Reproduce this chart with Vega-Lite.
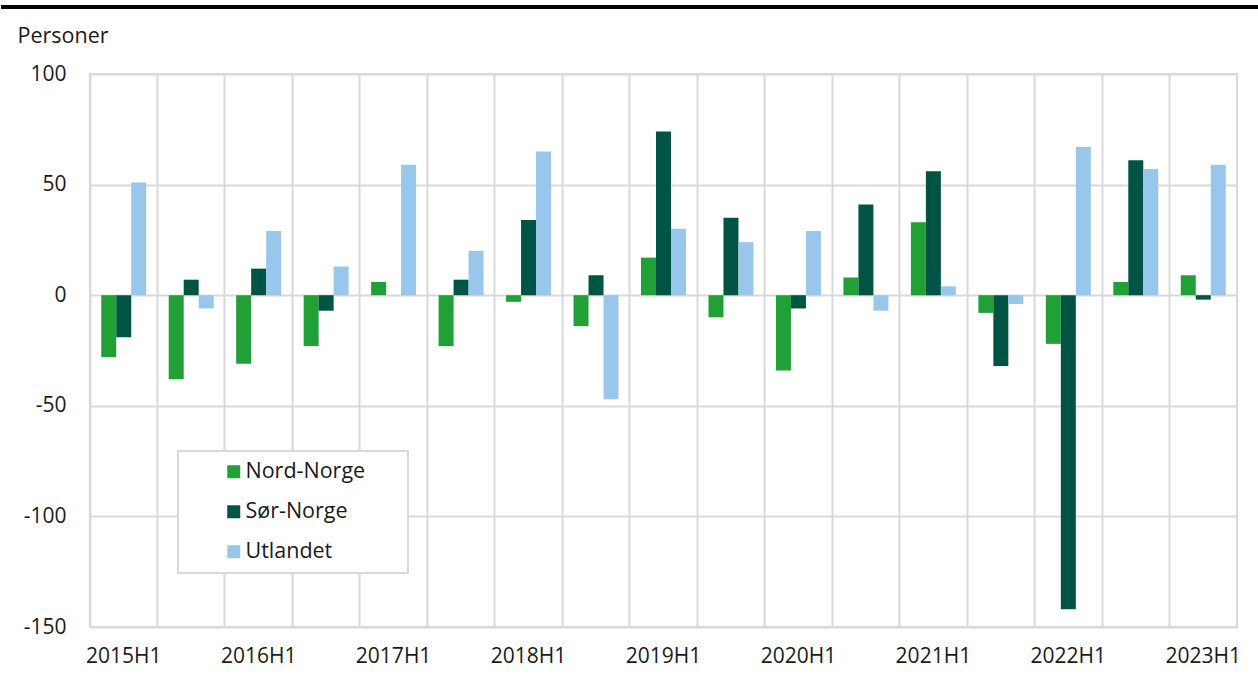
{
  "$schema": "https://vega.github.io/schema/vega-lite/v6.json",
  "padding": {"left": 0, "top": 5, "right": 0, "bottom": 0},
  "background": "white",
  "columns": 1,
  "align": "none",
  "bounds": "full",
  "spacing": 15,
  "config": {
    "font": "Open Sans",
    "view": {"stroke": "#d9d9d9", "strokeWidth": 2},
    "axis": {"labelFont": "Open Sans", "titleFont": "Open Sans", "labelColor": "#1a1a1a", "titleColor": "#1a1a1a"},
    "legend": {"labelFont": "Open Sans", "strokeWidth": 2}
  },
  "datasets": {
    "line": [{"lo": -0.0776, "hi": 1.0192, "b0": 0, "b1": 1}],
    "flows": [
      {"period": "2015H1", "region": "Nord-Norge", "value": -28},
      {"period": "2015H1", "region": "Sør-Norge", "value": -19},
      {"period": "2015H1", "region": "Utlandet", "value": 51},
      {"period": "2015H2", "region": "Nord-Norge", "value": -38},
      {"period": "2015H2", "region": "Sør-Norge", "value": 7},
      {"period": "2015H2", "region": "Utlandet", "value": -6},
      {"period": "2016H1", "region": "Nord-Norge", "value": -31},
      {"period": "2016H1", "region": "Sør-Norge", "value": 12},
      {"period": "2016H1", "region": "Utlandet", "value": 29},
      {"period": "2016H2", "region": "Nord-Norge", "value": -23},
      {"period": "2016H2", "region": "Sør-Norge", "value": -7},
      {"period": "2016H2", "region": "Utlandet", "value": 13},
      {"period": "2017H1", "region": "Nord-Norge", "value": 6},
      {"period": "2017H1", "region": "Sør-Norge", "value": 0},
      {"period": "2017H1", "region": "Utlandet", "value": 59},
      {"period": "2017H2", "region": "Nord-Norge", "value": -23},
      {"period": "2017H2", "region": "Sør-Norge", "value": 7},
      {"period": "2017H2", "region": "Utlandet", "value": 20},
      {"period": "2018H1", "region": "Nord-Norge", "value": -3},
      {"period": "2018H1", "region": "Sør-Norge", "value": 34},
      {"period": "2018H1", "region": "Utlandet", "value": 65},
      {"period": "2018H2", "region": "Nord-Norge", "value": -14},
      {"period": "2018H2", "region": "Sør-Norge", "value": 9},
      {"period": "2018H2", "region": "Utlandet", "value": -47},
      {"period": "2019H1", "region": "Nord-Norge", "value": 17},
      {"period": "2019H1", "region": "Sør-Norge", "value": 74},
      {"period": "2019H1", "region": "Utlandet", "value": 30},
      {"period": "2019H2", "region": "Nord-Norge", "value": -10},
      {"period": "2019H2", "region": "Sør-Norge", "value": 35},
      {"period": "2019H2", "region": "Utlandet", "value": 24},
      {"period": "2020H1", "region": "Nord-Norge", "value": -34},
      {"period": "2020H1", "region": "Sør-Norge", "value": -6},
      {"period": "2020H1", "region": "Utlandet", "value": 29},
      {"period": "2020H2", "region": "Nord-Norge", "value": 8},
      {"period": "2020H2", "region": "Sør-Norge", "value": 41},
      {"period": "2020H2", "region": "Utlandet", "value": -7},
      {"period": "2021H1", "region": "Nord-Norge", "value": 33},
      {"period": "2021H1", "region": "Sør-Norge", "value": 56},
      {"period": "2021H1", "region": "Utlandet", "value": 4},
      {"period": "2021H2", "region": "Nord-Norge", "value": -8},
      {"period": "2021H2", "region": "Sør-Norge", "value": -32},
      {"period": "2021H2", "region": "Utlandet", "value": -4},
      {"period": "2022H1", "region": "Nord-Norge", "value": -22},
      {"period": "2022H1", "region": "Sør-Norge", "value": -142},
      {"period": "2022H1", "region": "Utlandet", "value": 67},
      {"period": "2022H2", "region": "Nord-Norge", "value": 6},
      {"period": "2022H2", "region": "Sør-Norge", "value": 61},
      {"period": "2022H2", "region": "Utlandet", "value": 57},
      {"period": "2023H1", "region": "Nord-Norge", "value": 9},
      {"period": "2023H1", "region": "Sør-Norge", "value": -2},
      {"period": "2023H1", "region": "Utlandet", "value": 59}
    ]
  },
  "concat": [
    {
      "width": 1147,
      "height": 4,
      "view": {"stroke": null},
      "data": {"name": "line"},
      "mark": {"type": "rect", "color": "#000000"},
      "encoding": {
        "x": {"field": "lo", "type": "quantitative", "scale": {"domain": [0, 1], "nice": false, "zero": false}, "axis": null},
        "x2": {"field": "hi"},
        "y": {"field": "b0", "type": "quantitative", "scale": {"domain": [0, 1], "nice": false, "zero": false}, "axis": null},
        "y2": {"field": "b1"}
      }
    },
    {
      "width": 1147,
      "height": 553,
      "data": {"name": "flows"},
      "mark": {"type": "bar"},
      "encoding": {
        "x": {
          "field": "period",
          "type": "nominal",
          "sort": null,
          "scale": {"paddingInner": 0, "paddingOuter": 0},
          "axis": {
            "title": null,
            "grid": true,
            "bandPosition": 0,
            "gridColor": "#d9d9d9",
            "gridWidth": 2,
            "ticks": false,
            "domain": false,
            "labelAngle": 0,
            "labelFontSize": 21,
            "labelPadding": 18,
            "labelExpr": "test(/H2/, datum.label) ? '' : datum.label"
          }
        },
        "xOffset": {
          "field": "region",
          "type": "nominal",
          "sort": ["Nord-Norge", "Sør-Norge", "Utlandet"],
          "scale": {"paddingInner": 0, "paddingOuter": 0.75}
        },
        "y": {
          "field": "value",
          "type": "quantitative",
          "scale": {"domain": [-150, 100], "nice": false},
          "axis": {
            "title": "Personer",
            "titleAngle": 0,
            "titleAlign": "left",
            "titleBaseline": "middle",
            "titleX": -73,
            "titleY": -38,
            "titleFontSize": 21.5,
            "titleFontWeight": "normal",
            "values": [-150, -100, -50, 0, 50, 100],
            "grid": true,
            "gridColor": "#d9d9d9",
            "gridWidth": 2,
            "ticks": true,
            "tickSize": 89,
            "tickOpacity": 0,
            "domain": false,
            "labelFontSize": 21,
            "labelPadding": -65,
            "labelExpr": "datum.value < 0 ? '-' + abs(datum.value) : datum.label"
          }
        },
        "color": {
          "field": "region",
          "type": "nominal",
          "scale": {"domain": ["Nord-Norge", "Sør-Norge", "Utlandet"], "range": ["#21a038", "#005444", "#98c7eb"]},
          "legend": {
            "title": null,
            "orient": "none",
            "legendX": 88,
            "legendY": 446,
            "fillColor": "white",
            "strokeColor": "#d9d9d9",
            "padding": 10,
            "symbolType": "square",
            "symbolSize": 169,
            "symbolStrokeWidth": 0,
            "symbolOffset": 35,
            "labelOffset": 1,
            "labelFontSize": 21.5,
            "labelColor": "#1a1a1a",
            "rowPadding": 17,
            "labelExpr": "datum.label + '\u2800\u2800'"
          }
        }
      }
    }
  ]
}
